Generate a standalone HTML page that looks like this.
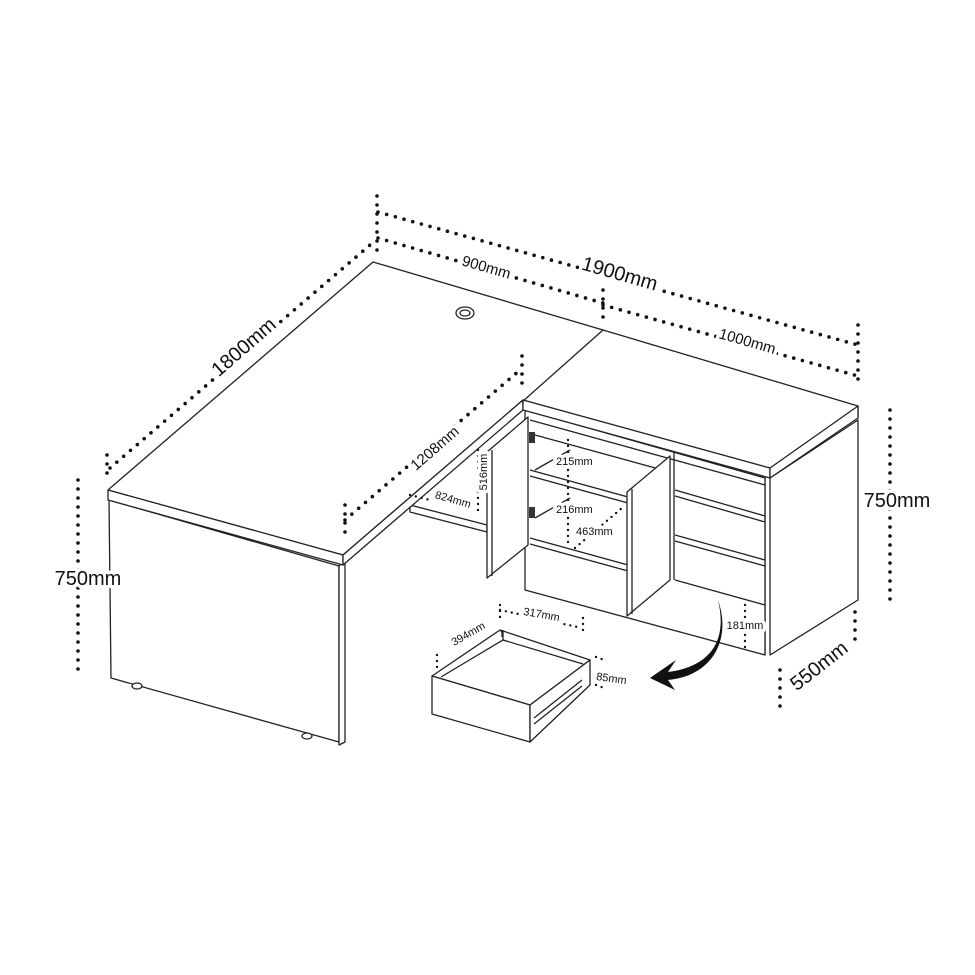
<!DOCTYPE html>
<html><head><style>
html,body{margin:0;padding:0;background:#fff;}
svg{display:block;}
text{font-family:"Liberation Sans",sans-serif;fill:#111;paint-order:stroke;stroke:#fff;stroke-width:7px;stroke-linejoin:round;}
.l{fill:#fff;stroke:#222;stroke-width:1.3;stroke-linejoin:round;}
.n{fill:none;stroke:#222;stroke-width:1.3;}
.d{fill:none;stroke:#111;stroke-width:3.6;stroke-linecap:round;stroke-dasharray:0 9;}
.ds{fill:none;stroke:#111;stroke-width:2.4;stroke-linecap:round;stroke-dasharray:0 6;}
</style></head><body>
<svg width="975" height="975" viewBox="0 0 975 975" xmlns="http://www.w3.org/2000/svg">
<polygon class="l" points="770,478 858,420 858,600 770,655"/>
<line class="n" x1="765" y1="478" x2="765" y2="655"/>
<polygon class="l" points="525,410 765,478 765,655 525,590"/>
<polyline class="n" points="530,470 668,508"/><polyline class="n" points="530,476 668,514"/>
<polyline class="n" points="530,538 668,576"/><polyline class="n" points="530,544 668,582"/>
<polyline class="n" points="675,490 765,516"/><polyline class="n" points="675,496 765,522"/>
<polyline class="n" points="675,535 765,560"/><polyline class="n" points="675,541 765,566"/>
<polyline class="n" points="675,580 765,605"/>
<line class="n" x1="674" y1="452" x2="674" y2="580"/>
<polyline class="n" points="530,420 765,485"/>
<polyline class="n" points="535,435 670,472"/>
<polyline class="n" points="570,450 535,470"/>
<polyline class="n" points="570,498 535,518"/>
<polygon class="l" points="410,505 487,525 487,532 410,512"/>
<polygon class="l" points="487,452 528,417 528,545 487,578"/>
<line class="n" x1="492" y1="450" x2="492" y2="576"/>
<polygon class="l" points="627,492 670,456 670,580 627,616"/>
<line class="n" x1="632" y1="489" x2="632" y2="614"/>
<rect x="529" y="432" width="6" height="11" fill="#333"/>
<rect x="529" y="507" width="6" height="11" fill="#333"/>
<polygon class="l" points="109,500 339,566 339,742 111,678"/>
<polygon class="l" points="339,566 345,560 345,742 339,745"/>
<ellipse cx="137" cy="686" rx="5" ry="3" class="l"/>
<ellipse cx="307" cy="736" rx="5" ry="3" class="l"/>
<polygon class="l" points="108,490 373,262 603,330 858,406 858,418 770,470 523,400 343,555"/>
<polygon class="l" points="108,490 343,555 343,565 108,500"/>
<polygon class="l" points="343,555 523,400 523,410 343,565"/>
<polygon class="l" points="523,400 770,468 770,478 523,410"/>
<polygon class="l" points="770,468 858,406 858,418 770,478"/>
<line class="n" x1="603" y1="330" x2="522" y2="402"/>
<ellipse cx="465" cy="313" rx="9" ry="6" class="l"/>
<ellipse cx="465" cy="313" rx="5" ry="3" class="n"/>
<!-- drawer -->
<polygon class="l" points="500,630 590,660 530,705 432,676"/>
<polyline class="n" points="502,637 502,632 500,630"/>
<polyline class="n" points="441,677 503,640 583,664"/>
<polyline class="n" points="503,640 503,630"/>
<polygon class="l" points="432,676 530,705 530,742 432,714"/>
<polygon class="l" points="530,705 590,660 590,685 530,742"/>
<polyline class="n" points="534,718 582,680"/><polyline class="n" points="534,724 582,686"/>
<path d="M718,600 C730,650 700,668 668,672 L676,660 L650,678 L675,690 L668,680 C712,676 732,640 718,600 Z" fill="#111"/>
<polyline class="d" points="378,212 858,345"/>
<polyline class="d" points="377,196 377,255"/><polyline class="d" points="858,325 858,385"/>
<polyline class="d" points="378,238 603,303"/><polyline class="d" points="603,290 603,325"/>
<polyline class="d" points="603,305 858,376"/>
<polyline class="d" points="110,468 370,245"/><polyline class="d" points="107,455 107,475"/>
<polyline class="d" points="345,520 520,370"/><polyline class="d" points="522,356 522,385"/><polyline class="d" points="345,505 345,535"/>
<polyline class="d" points="78,480 78,670"/>
<polyline class="d" points="890,410 890,605"/>
<polyline class="d" points="780,670 780,715"/><polyline class="d" points="855,612 855,640"/>
<polyline class="ds" points="568,440 568,548"/><polyline class="ds" points="575,548 622,508"/>
<polyline class="ds" points="478,450 478,515"/>
<polyline class="ds" points="410,495 430,500"/>
<polyline class="ds" points="745,605 745,650"/>
<polyline class="ds" points="437,655 437,670"/><polyline class="ds" points="500,605 500,618"/>
<polyline class="ds" points="500,610 582,628"/><polyline class="ds" points="583,618 583,635"/>
<polyline class="ds" points="596,657 604,660"/><polyline class="ds" points="596,685 604,688"/>
<text x="618" y="280" font-size="20" transform="rotate(16 618 280)" text-anchor="middle">1900mm</text>
<text x="485" y="272" font-size="15" transform="rotate(16 485 272)" text-anchor="middle">900mm</text>
<text x="746" y="346" font-size="15" transform="rotate(16 746 346)" text-anchor="middle">1000mm</text>
<text x="248" y="352" font-size="20" transform="rotate(-41 248 352)" text-anchor="middle">1800mm</text>
<text x="438" y="452" font-size="15" transform="rotate(-41 438 452)" text-anchor="middle">1208mm</text>
<text x="88" y="585" font-size="20" text-anchor="middle">750mm</text>
<text x="897" y="507" font-size="20" text-anchor="middle">750mm</text>
<text x="823" y="671" font-size="20" transform="rotate(-38 823 671)" text-anchor="middle">550mm</text>
<text x="556" y="465" font-size="11">215mm</text>
<text x="556" y="513" font-size="11">216mm</text>
<text x="576" y="535" font-size="11">463mm</text>
<text x="487" y="472" font-size="11" transform="rotate(-90 487 472)" text-anchor="middle">516mm</text>
<text x="452" y="503" font-size="11" transform="rotate(16 452 503)" text-anchor="middle">824mm</text>
<text x="745" y="629" font-size="11" text-anchor="middle">181mm</text>
<text x="470" y="637" font-size="11" transform="rotate(-30 470 637)" text-anchor="middle">394mm</text>
<text x="541" y="618" font-size="11" transform="rotate(10 541 618)" text-anchor="middle">317mm</text>
<text x="611" y="682" font-size="11" transform="rotate(8 611 682)" text-anchor="middle">85mm</text>
</svg>
</body></html>
